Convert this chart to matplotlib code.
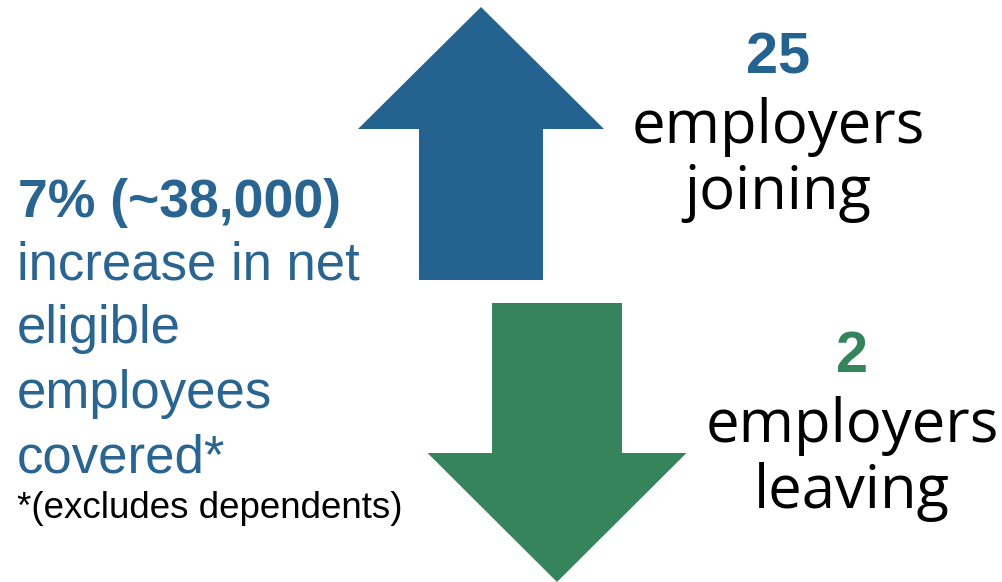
import matplotlib.pyplot as plt
from matplotlib.patches import Polygon

# values shown on the graphic
net_pct = 7
net_employees = 38000
employer_counts = [25, 2]
employer_words = ["joining", "leaving"]
left_lines = ["increase in net", "eligible", "employees", "covered*"]
footnote = "*(excludes dependents)"

blue = "#246390"
green = "#36845c"
text_blue = "#2a6592"

fig = plt.figure(figsize=(10.02, 5.82), dpi=100)
ax = fig.add_axes([0, 0, 1, 1])
ax.set_xlim(0, 1002)
ax.set_ylim(582, 0)
ax.axis("off")

def arrow(cx, shaft_w, head_w, y_tail, y_head, y_tip, color):
	pts = [(cx - shaft_w/2, y_tail), (cx - shaft_w/2, y_head), (cx - head_w/2, y_head),
		(cx, y_tip), (cx + head_w/2, y_head), (cx + shaft_w/2, y_head), (cx + shaft_w/2, y_tail)]
	ax.add_patch(Polygon(pts, closed=True, facecolor=color, edgecolor="none"))

arrow(481, 124, 246, 280, 129, 7, blue)
arrow(557, 130, 259, 303, 453, 582, green)

# left block
ax.text(18, 217, "%d%% (~%s)" % (net_pct, format(net_employees, ",")), fontsize=38.5,
	fontweight="bold", color=text_blue, family="Liberation Sans", va="baseline", ha="left")
y = 279
for line in left_lines:
	ax.text(17, y, line, fontsize=38, color=text_blue, family="Liberation Sans", va="baseline", ha="left")
	y += 64.5
ax.text(17, 518, footnote, fontsize=26.5, color="black", family="Liberation Sans", va="baseline", ha="left")

# right blocks
for cx, base, n, word, col in [(778, 73, employer_counts[0], employer_words[0], blue),
		(852, 372, employer_counts[1], employer_words[1], green)]:
	ax.text(cx, base, str(n), fontsize=41.5, fontweight="bold", color=col,
		family="Liberation Sans", va="baseline", ha="center")
	ax.text(cx, base + 70, "employers", fontsize=43, color="black", family="Open Sans", va="baseline", ha="center")
	ax.text(cx, base + 136, word, fontsize=43, color="black", family="Open Sans", va="baseline", ha="center")

fig.savefig("out.png", dpi=100)
